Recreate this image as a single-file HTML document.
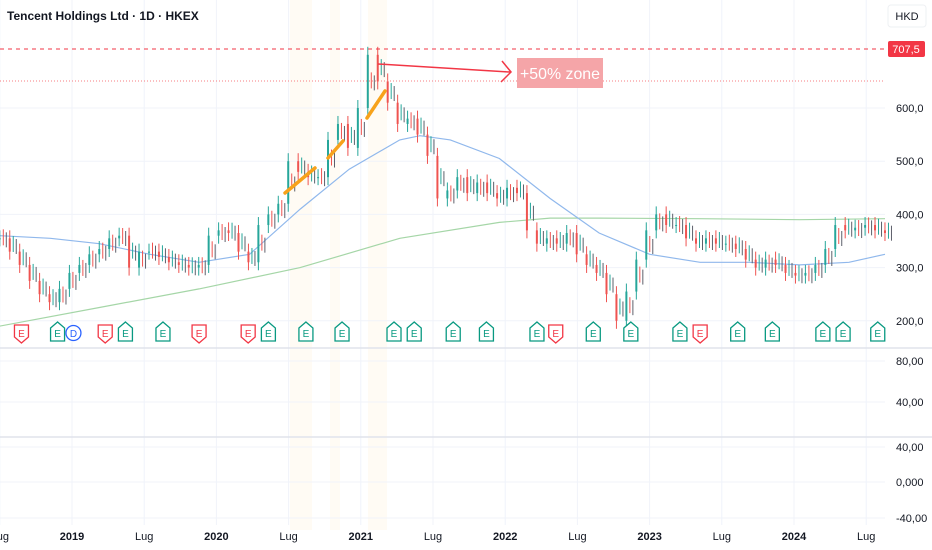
<!DOCTYPE html>
<html><head><meta charset="utf-8">
<style>
body{margin:0;background:#fff;font-family:"Liberation Sans",sans-serif;}
#wrap{position:relative;width:932px;height:550px;overflow:hidden;}
svg text{font-family:"Liberation Sans",sans-serif;}
</style></head>
<body>
<div id="wrap">
<svg id="chart" width="932" height="550"></svg>
</div>
<script>
const closes=[355,330,305,275,250,235,260,290,305,325,335,355,360,300,330,330,320,310,305,300,305,360,370,365,330,310,380,400,420,500,480,470,470,540,570,525,600,700,650,610,570,580,550,510,430,445,470,440,460,440,430,450,440,370,345,355,345,365,325,305,290,250,200,255,315,370,400,380,380,355,345,355,345,345,335,315,300,315,305,290,285,290,305,335,380,370,375,380,370,365];
const ma1Dates=[2018.5,2018.85,2019.19,2019.54,2019.88,2020.23,2020.58,2020.92,2021.27,2021.41,2021.62,2021.96,2022.31,2022.65,2023.0,2023.35,2023.69,2024.04,2024.38,2024.63];
const ma1Vals=[360,355,345,325,310,325,410,485,540,548,540,505,430,365,325,310,310,305,310,325];
const ma2Dates=[2018.5,2019.19,2019.88,2020.58,2021.27,2021.96,2022.31,2022.65,2023.35,2024.04,2024.63];
const ma2Vals=[190,225,260,300,355,385,393,393,392,390,392];
const yTicks=[200,300,400,500,600];
const yTickLabels=["200,0","300,0","400,0","500,0","600,0"];
const xTickDates=[2018.5,2019,2019.5,2020,2020.5,2021,2021.5,2022,2022.5,2023,2023.5,2024,2024.5];
const xTickLabels=["Lug","2019","Lug","2020","Lug","2021","Lug","2022","Lug","2023","Lug","2024","Lug"];
const eventDates=[2018.65,2018.9,2019.01,2019.23,2019.37,2019.63,2019.88,2020.22,2020.36,2020.62,2020.87,2021.23,2021.37,2021.64,2021.87,2022.22,2022.35,2022.61,2022.87,2023.21,2023.35,2023.61,2023.85,2024.2,2024.34,2024.58];
const eventTypes=["r","g","d","r","g","g","r","r","g","g","g","g","g","g","g","g","r","g","g","g","r","g","g","g","g","g"];
const startDate=2018.5,endDate=2024.63;

const NS="http://www.w3.org/2000/svg";
const svg=document.getElementById('chart');
function el(t,a,p){const e=document.createElementNS(NS,t);for(const k in a)e.setAttribute(k,a[k]);(p||svg).appendChild(e);return e;}
const xS=t=>72+(t-2019)*144.4;
const yS=p=>108+(600-p)*0.532;
const plotR=885;

[[290,312],[330,340],[368,387]].forEach(b=>{const r=el('rect',{x:b[0],y:0,width:b[1]-b[0],height:530,fill:'#fff3e0',opacity:0.35});});

const g=el('g',{});
yTicks.forEach((v,i)=>{el('line',{x1:0,x2:plotR,y1:yS(v),y2:yS(v),stroke:'#f0f3fa'},g);
 const t=el('text',{x:896,y:yS(v)+4,'font-size':11,fill:'#131722'});t.textContent=yTickLabels[i];});
xTickDates.forEach((d,i)=>{const x=xS(d);el('line',{x1:x,x2:x,y1:0,y2:525,stroke:'#f0f3fa'},g);
 const t=el('text',{x:x,y:540,'font-size':11,'text-anchor':'middle',fill:'#131722','font-weight':xTickLabels[i]==='Lug'?'normal':'bold'});t.textContent=xTickLabels[i];});
[[361,"80,00"],[402,"40,00"],[447,"40,00"],[482,"0,000"],[518,"-40,00"]].forEach(r=>{el('line',{x1:0,x2:plotR,y1:r[0],y2:r[0],stroke:'#f0f3fa'},g);const t=el('text',{x:896,y:r[0]+4,'font-size':11,fill:'#131722'});t.textContent=r[1];});
[348,437].forEach(y=>{const l=el('line',{x1:0,x2:932,y1:y,y2:y,stroke:'#e0e3eb','stroke-width':1.5});});

function line(ds,vs,col,name){const pts=ds.map((d,i)=>xS(d).toFixed(1)+','+yS(vs[i]).toFixed(1)).join(' ');const p=el('polyline',{points:pts,fill:'none',stroke:col,'stroke-width':1.2});}
line(ma2Dates,ma2Vals,'#a5d6a7','ma-green');
line(ma1Dates,ma1Vals,'#90b8ec','ma-blue');

const step=(endDate-startDate)/(closes.length-1);
const cg=el('g',{});
closes.forEach((c,i)=>{const o=i?closes[i-1]:c;const x=xS(startDate+i*step);const up=c>=o;const col=up?'#26a69a':'#ef5350';
 const top=yS(Math.max(o,c)),bot=yS(Math.min(o,c));
 el('line',{x1:x,x2:x,y1:top-8,y2:bot+8,stroke:col,'stroke-width':1},cg);
 el('rect',{x:x-1,y:top,width:2,height:Math.max(1,bot-top),fill:col},cg);
 const m=(top+bot)/2;
 el('line',{x1:x+3.5,x2:x+3.5,y1:m-9,y2:m+7,stroke:up?'#ef5350':'#26a69a','stroke-width':1},cg);
 el('line',{x1:x+6.5,x2:x+6.5,y1:m-6,y2:m+9,stroke:'#5d606b','stroke-width':1},cg);
});

[[285,193,315,168],[328,158,343,141],[367,118,385,91]].forEach(s=>{const l=el('line',{x1:s[0],y1:s[1],x2:s[2],y2:s[3],stroke:'#f7a21b','stroke-width':3.5,'stroke-linecap':'round'});});

const hl=el('line',{x1:0,x2:plotR,y1:49,y2:49,stroke:'#f23645','stroke-dasharray':'4 4','stroke-width':1});
const hl2=el('line',{x1:0,x2:plotR,y1:81,y2:81,stroke:'#f77c80','stroke-dasharray':'1 2','stroke-width':1});
const ar=el('g',{});
el('line',{x1:378,y1:64,x2:510,y2:72,stroke:'#f23645','stroke-width':1.5},ar);
el('polyline',{points:'502,61 511,72 501,82',fill:'none',stroke:'#f23645','stroke-width':1.5},ar);
const lb=el('rect',{x:517,y:58,width:86,height:30,fill:'#f5a5a8'});
const lt=el('text',{x:520,y:79,'font-size':16,fill:'#fff',textLength:80,lengthAdjust:'spacingAndGlyphs'});lt.textContent='+50% zone';

eventDates.forEach((d,i)=>{const x=xS(d),tp=eventTypes[i];const gg=el('g',{});
 if(tp==='d'){el('circle',{cx:x,cy:333,r:7.5,fill:'#fff',stroke:'#2962ff','stroke-width':1.3},gg);}
 else if(tp==='g'){el('path',{d:`M${x-7},${328} L${x},${322} L${x+7},${328} L${x+7},${341} L${x-7},${341} Z`,fill:'#fff',stroke:'#089981','stroke-width':1.3},gg);}
 else{el('path',{d:`M${x-7},${325} L${x+7},${325} L${x+7},${337} L${x},${343} L${x-7},${337} Z`,fill:'#fff',stroke:'#f23645','stroke-width':1.3},gg);}
 const t=el('text',{x:x,y:337,'font-size':10,'text-anchor':'middle',fill:tp==='g'?'#089981':tp==='r'?'#f23645':'#2962ff'},gg);t.textContent=tp==='d'?'D':'E';});

const tt=el('text',{x:7,y:20,'font-size':12,fill:'#131722','font-weight':'bold'});tt.textContent='Tencent Holdings Ltd · 1D · HKEX';
const cb=el('rect',{x:888,y:5,width:38,height:22,rx:3,fill:'#fff',stroke:'#eef0f3'});
const ct=el('text',{x:907,y:20,'font-size':11,'text-anchor':'middle',fill:'#131722'});ct.textContent='HKD';
const pb=el('rect',{x:888,y:41,width:37,height:16,rx:2,fill:'#f23645'});
const pt=el('text',{x:906,y:53,'font-size':11,'text-anchor':'middle',fill:'#fff'});pt.textContent='707,5';
</script>
</body></html>
